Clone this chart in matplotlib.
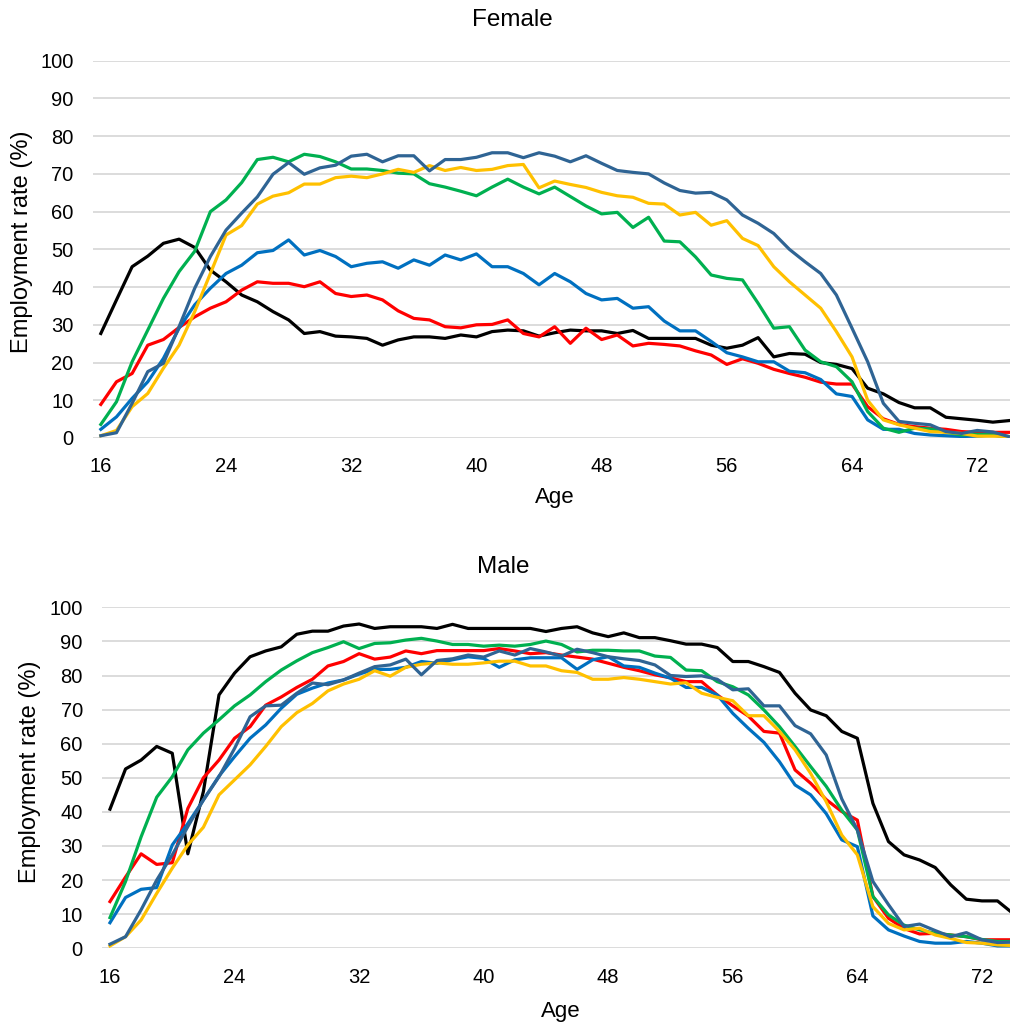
import matplotlib.pyplot as plt
import numpy as np

plt.rcParams['font.family'] = ['Liberation Sans', 'DejaVu Sans']

AGES = list(range(16, 75))

# female employment rate (%) by age, one list per series
f_black = [27.7, 36.6, 45.4, 48.2, 51.6, 52.7, 50.5, 44.5, 41.4, 37.9, 36.1, 33.5, 31.3, 27.7, 28.2,
           27.0, 26.8, 26.4, 24.6, 26.0, 26.8, 26.8, 26.4, 27.3, 26.8, 28.2, 28.6, 28.4, 27.0, 27.9,
           28.6, 28.4, 28.4, 27.7, 28.5, 26.4, 26.4, 26.4, 26.4, 24.6, 23.8, 24.6, 26.6, 21.5, 22.4,
           22.2, 20.0, 19.5, 18.4, 13.2, 11.7, 9.4, 8.0, 8.0, 5.5, 5.1, 4.7, 4.2, 4.6]
f_red = [8.9, 14.9, 17.1, 24.6, 26.1, 29.3, 32.1, 34.4, 36.1, 39.2, 41.4, 41.0, 41.0, 40.1, 41.4,
         38.3, 37.5, 37.9, 36.6, 33.7, 31.7, 31.3, 29.5, 29.2, 30.0, 30.1, 31.3, 27.7, 26.8, 29.5,
         25.1, 29.1, 26.1, 27.3, 24.4, 25.1, 24.8, 24.4, 23.1, 22.0, 19.5, 21.0, 19.8, 18.2, 17.1,
         16.1, 14.8, 14.3, 14.3, 8.3, 5.1, 3.6, 3.0, 2.6, 2.3, 1.7, 1.5, 1.5, 1.5]
f_blue = [2.3, 5.6, 10.5, 14.9, 21.1, 29.1, 35.3, 39.7, 43.6, 45.8, 49.1, 49.7, 52.5, 48.5, 49.7,
          48.1, 45.4, 46.3, 46.7, 45.0, 47.2, 45.8, 48.5, 47.2, 48.8, 45.4, 45.4, 43.6, 40.6, 43.6,
          41.4, 38.3, 36.6, 37.0, 34.4, 34.8, 31.0, 28.4, 28.4, 25.6, 22.6, 21.5, 20.2, 20.2, 17.7,
          17.3, 15.5, 11.7, 11.0, 4.8, 2.3, 2.3, 1.2, 0.8, 0.6, 0.4, 0.5, 0.8, 0.1]
f_green = [3.6, 9.6, 20.2, 28.6, 37.0, 44.1, 49.5, 60.0, 63.1, 67.7, 73.8, 74.4, 73.2, 75.2, 74.6,
           73.2, 71.3, 71.3, 70.9, 70.2, 70.0, 67.4, 66.5, 65.4, 64.2, 66.5, 68.6, 66.5, 64.7, 66.5,
           64.0, 61.5, 59.4, 59.8, 55.8, 58.5, 52.2, 52.0, 48.0, 43.2, 42.3, 41.9, 35.7, 29.1, 29.5,
           23.3, 20.2, 18.9, 14.9, 7.0, 2.6, 1.5, 2.6, 2.4, 1.5, 0.8, 1.0, 0.8, 0.4]
f_yellow = [0.6, 2.0, 8.3, 11.8, 18.5, 24.6, 33.5, 43.6, 53.8, 56.3, 62.0, 64.1, 65.0, 67.3, 67.3,
            69.0, 69.4, 69.0, 70.0, 71.2, 70.4, 72.2, 70.9, 71.7, 70.9, 71.2, 72.2, 72.5, 66.3, 68.1,
            67.2, 66.4, 65.1, 64.2, 63.8, 62.2, 62.0, 59.1, 59.8, 56.4, 57.6, 52.9, 51.0, 45.4, 41.4,
            37.9, 34.4, 28.2, 21.5, 10.0, 4.8, 3.5, 2.6, 1.7, 1.5, 1.2, 0.5, 0.5, 0.4]
f_navy = [0.6, 1.4, 9.2, 17.6, 19.8, 29.5, 39.7, 48.1, 55.1, 59.6, 63.9, 69.9, 73.0, 69.9, 71.6,
          72.3, 74.7, 75.2, 73.2, 74.8, 74.8, 70.8, 73.8, 73.8, 74.4, 75.6, 75.6, 74.3, 75.6, 74.7,
          73.2, 74.8, 72.8, 70.9, 70.4, 70.0, 67.6, 65.6, 64.9, 65.1, 63.1, 59.1, 56.9, 54.2, 50.0,
          46.7, 43.6, 37.9, 29.1, 20.2, 9.2, 4.4, 3.9, 3.5, 1.7, 1.2, 2.0, 1.6, 0.4]

# male employment rate (%) by age
m_black = [40.8, 52.6, 55.2, 59.2, 57.2, 27.7, 46.0, 74.3, 80.7, 85.5, 87.2, 88.4, 92.1, 93.0, 93.0,
           94.5, 95.1, 93.8, 94.3, 94.3, 94.3, 93.8, 95.0, 93.8, 93.8, 93.8, 93.8, 93.8, 92.9, 93.8,
           94.3, 92.5, 91.4, 92.5, 91.1, 91.1, 90.2, 89.2, 89.2, 88.2, 84.1, 84.1, 82.6, 80.9, 74.8,
           69.9, 68.2, 63.6, 61.6, 42.5, 31.3, 27.4, 25.9, 23.7, 18.6, 14.4, 13.9, 13.9, 10.2]
m_red = [13.7, 20.9, 27.7, 24.6, 25.1, 41.0, 50.0, 55.2, 61.6, 65.0, 71.3, 73.7, 76.5, 78.9, 82.8,
         84.1, 86.4, 84.8, 85.4, 87.2, 86.4, 87.3, 87.3, 87.3, 87.3, 87.9, 87.2, 86.4, 86.7, 86.0,
         85.4, 84.8, 83.6, 82.4, 81.4, 80.2, 79.3, 78.2, 78.2, 74.3, 71.1, 68.1, 63.6, 63.1, 52.3,
         48.4, 43.6, 40.1, 37.6, 15.2, 8.8, 5.8, 4.2, 4.4, 3.9, 3.4, 2.5, 2.5, 2.5]
m_blue = [7.5, 14.9, 17.3, 17.8, 30.3, 36.6, 43.5, 50.5, 56.2, 61.6, 65.5, 70.4, 74.5, 76.3, 77.8,
          78.7, 80.4, 81.8, 81.8, 82.4, 84.1, 83.6, 84.6, 85.5, 85.0, 82.4, 84.6, 85.2, 85.2, 85.2,
          81.8, 84.6, 85.5, 82.8, 82.4, 80.7, 79.2, 76.5, 76.5, 74.3, 68.9, 64.5, 60.4, 54.7, 47.9,
          45.0, 39.5, 31.8, 29.8, 9.5, 5.4, 3.6, 2.0, 1.5, 1.5, 2.0, 1.5, 0.7, 0.7]
m_green = [9.0, 19.6, 32.7, 44.3, 50.3, 58.2, 63.1, 67.0, 71.1, 74.3, 78.2, 81.6, 84.3, 86.7, 88.2,
           89.9, 87.9, 89.4, 89.6, 90.4, 90.9, 90.1, 89.1, 89.1, 88.6, 88.9, 88.6, 89.1, 90.1, 89.1,
           86.9, 87.4, 87.4, 87.2, 87.2, 85.7, 85.3, 81.6, 81.4, 78.2, 76.7, 74.3, 69.9, 65.0, 59.2,
           53.3, 47.5, 40.5, 34.7, 15.2, 9.8, 6.8, 5.4, 4.4, 3.9, 3.4, 2.6, 2.0, 2.0]
m_yellow = [0.7, 3.4, 8.3, 16.1, 23.5, 30.3, 35.5, 45.0, 49.4, 53.8, 59.2, 65.0, 69.1, 71.8, 75.5,
            77.5, 78.9, 81.4, 79.8, 82.4, 83.3, 83.7, 83.3, 83.3, 83.7, 84.2, 84.2, 82.8, 82.8, 81.4,
            80.9, 78.9, 78.9, 79.4, 78.9, 78.2, 77.5, 77.9, 74.8, 73.6, 72.6, 68.2, 68.2, 63.6, 58.2,
            51.3, 43.0, 33.2, 27.4, 12.2, 7.3, 5.4, 5.9, 3.9, 2.9, 1.7, 1.5, 1.0, 0.8]
m_navy = [1.2, 3.4, 11.3, 20.0, 27.4, 35.7, 43.5, 50.3, 58.6, 67.9, 71.1, 71.3, 74.8, 77.8, 77.3,
          78.7, 80.7, 82.6, 83.1, 84.8, 80.2, 84.4, 84.9, 86.0, 85.4, 87.2, 86.0, 87.9, 86.9, 85.7,
          87.7, 86.7, 85.5, 84.9, 84.4, 83.1, 80.0, 79.7, 79.9, 78.9, 75.8, 76.1, 71.1, 71.1, 65.3,
          62.9, 56.7, 43.8, 34.7, 19.6, 12.8, 6.4, 7.1, 5.2, 3.4, 4.6, 2.5, 1.7, 1.8]

COLORS = ['#000000', '#FF0000', '#0070C0', '#00B050', '#FFC000', '#2F6494']
W, H = 1010, 1026


def panel(fig, rect, series, px_per_year, title, title_xy, xlabel_xy, ylabel_xy):
    ax = fig.add_axes(rect)
    for vals, c in zip(series, COLORS):
        ax.plot(AGES, vals, color=c, linewidth=2.3, solid_joinstyle='round')
    width_px = rect[2] * W
    ax.set_xlim(15.5, 15.5 + width_px / px_per_year)
    ax.set_ylim(0, 100)
    ax.set_yticks(np.arange(0, 101, 10))
    ax.set_xticks(range(16, 75, 8))
    ax.grid(axis='y', color='#D9D9D9', linewidth=1.3)
    ax.set_axisbelow(True)
    for s in ax.spines.values():
        s.set_visible(False)
    ax.tick_params(axis='both', length=0, labelsize=14.5, colors='#000000')
    ax.tick_params(axis='y', pad=14)
    ax.tick_params(axis='x', pad=14)
    fig.text(title_xy[0] / W, 1 - title_xy[1] / H, title, fontsize=17.5, ha='center', va='center')
    fig.text(xlabel_xy[0] / W, 1 - xlabel_xy[1] / H, 'Age', fontsize=16, ha='center', va='center')
    fig.text(ylabel_xy[0] / W, 1 - ylabel_xy[1] / H, 'Employment rate (%)', fontsize=17,
             rotation=90, ha='center', va='center')
    return ax


def main():
    fig = plt.figure(figsize=(W / 100, H / 100), dpi=100)
    fem = [f_black, f_red, f_blue, f_green, f_yellow, f_navy]
    mal = [m_black, m_red, m_blue, m_green, m_yellow, m_navy]
    panel(fig, [93 / W, 1 - 438 / H, (W - 93) / W, (438 - 60.7) / H], fem, 15.65,
          'Female', (512, 20), (555, 497), (22, 242))
    panel(fig, [102.2 / W, 1 - 948.3 / H, (W - 102.2) / W, (948.3 - 607.3) / H], mal, 15.57,
          'Male', (503, 567), (561, 1011), (30, 772))
    fig.savefig('out.png', dpi=100)


if __name__ == "__main__":
    main()
